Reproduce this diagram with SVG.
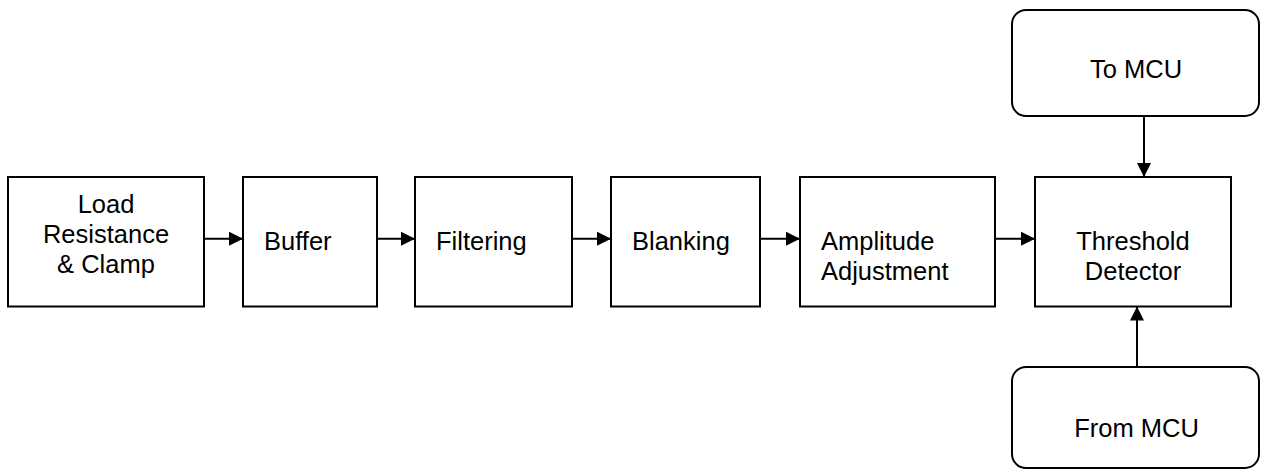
<svg xmlns="http://www.w3.org/2000/svg" width="1261" height="470" viewBox="0 0 1261 470">
<style>
.box{fill:#fff;stroke:#000;stroke-width:2}
.t{font-family:"Liberation Sans",Arial,sans-serif;font-size:25.5px;fill:#000}
.c{text-anchor:middle}
.ln{stroke:#000;stroke-width:2;fill:none}
</style>
<defs>
<marker id="ah" viewBox="0 0 14 14" refX="14" refY="7" markerWidth="14" markerHeight="14" markerUnits="userSpaceOnUse" orient="auto">
<path d="M0,0 L14,7 L0,14 Z" fill="#000"/>
</marker>
</defs>
<rect width="1261" height="470" fill="#fff"/>
<g id="load">
<rect class="box" x="8" y="177" width="196" height="129.5"/>
<text class="t c" x="106" y="213">Load</text>
<text class="t c" x="106" y="243">Resistance</text>
<text class="t c" x="106" y="273">&amp; Clamp</text>
</g>
<g id="buffer">
<rect class="box" x="243" y="177" width="134" height="129.5"/>
<text class="t" x="264" y="250">Buffer</text>
</g>
<g id="filtering">
<rect class="box" x="415" y="177" width="157" height="129.5"/>
<text class="t" x="436" y="250">Filtering</text>
</g>
<g id="blanking">
<rect class="box" x="611" y="177" width="149" height="129.5"/>
<text class="t" x="632" y="250">Blanking</text>
</g>
<g id="amplitude">
<rect class="box" x="800" y="177" width="195" height="129.5"/>
<text class="t" x="821" y="250">Amplitude</text>
<text class="t" x="821" y="279.5">Adjustment</text>
</g>
<g id="threshold">
<rect class="box" x="1035" y="177" width="196" height="129.5"/>
<text class="t c" x="1133" y="250">Threshold</text>
<text class="t c" x="1133" y="280">Detector</text>
</g>
<g id="tomcu">
<rect class="box" x="1012" y="10" width="247" height="106" rx="14" ry="14"/>
<text class="t c" x="1136" y="78">To MCU</text>
</g>
<g id="frommcu">
<rect class="box" x="1012" y="367" width="247" height="101" rx="14" ry="14"/>
<text class="t c" x="1136.5" y="437">From MCU</text>
</g>
<g id="connectors">
<line class="ln" x1="204" y1="238.7" x2="243" y2="238.7" marker-end="url(#ah)"/>
<line class="ln" x1="377" y1="238.7" x2="415" y2="238.7" marker-end="url(#ah)"/>
<line class="ln" x1="572" y1="238.7" x2="611" y2="238.7" marker-end="url(#ah)"/>
<line class="ln" x1="760" y1="238.7" x2="800" y2="238.7" marker-end="url(#ah)"/>
<line class="ln" x1="995" y1="238.7" x2="1035" y2="238.7" marker-end="url(#ah)"/>
<line class="ln" x1="1144" y1="116" x2="1144" y2="177" marker-end="url(#ah)"/>
<line class="ln" x1="1137" y1="367" x2="1137" y2="306.5" marker-end="url(#ah)"/>
</g>
</svg>
